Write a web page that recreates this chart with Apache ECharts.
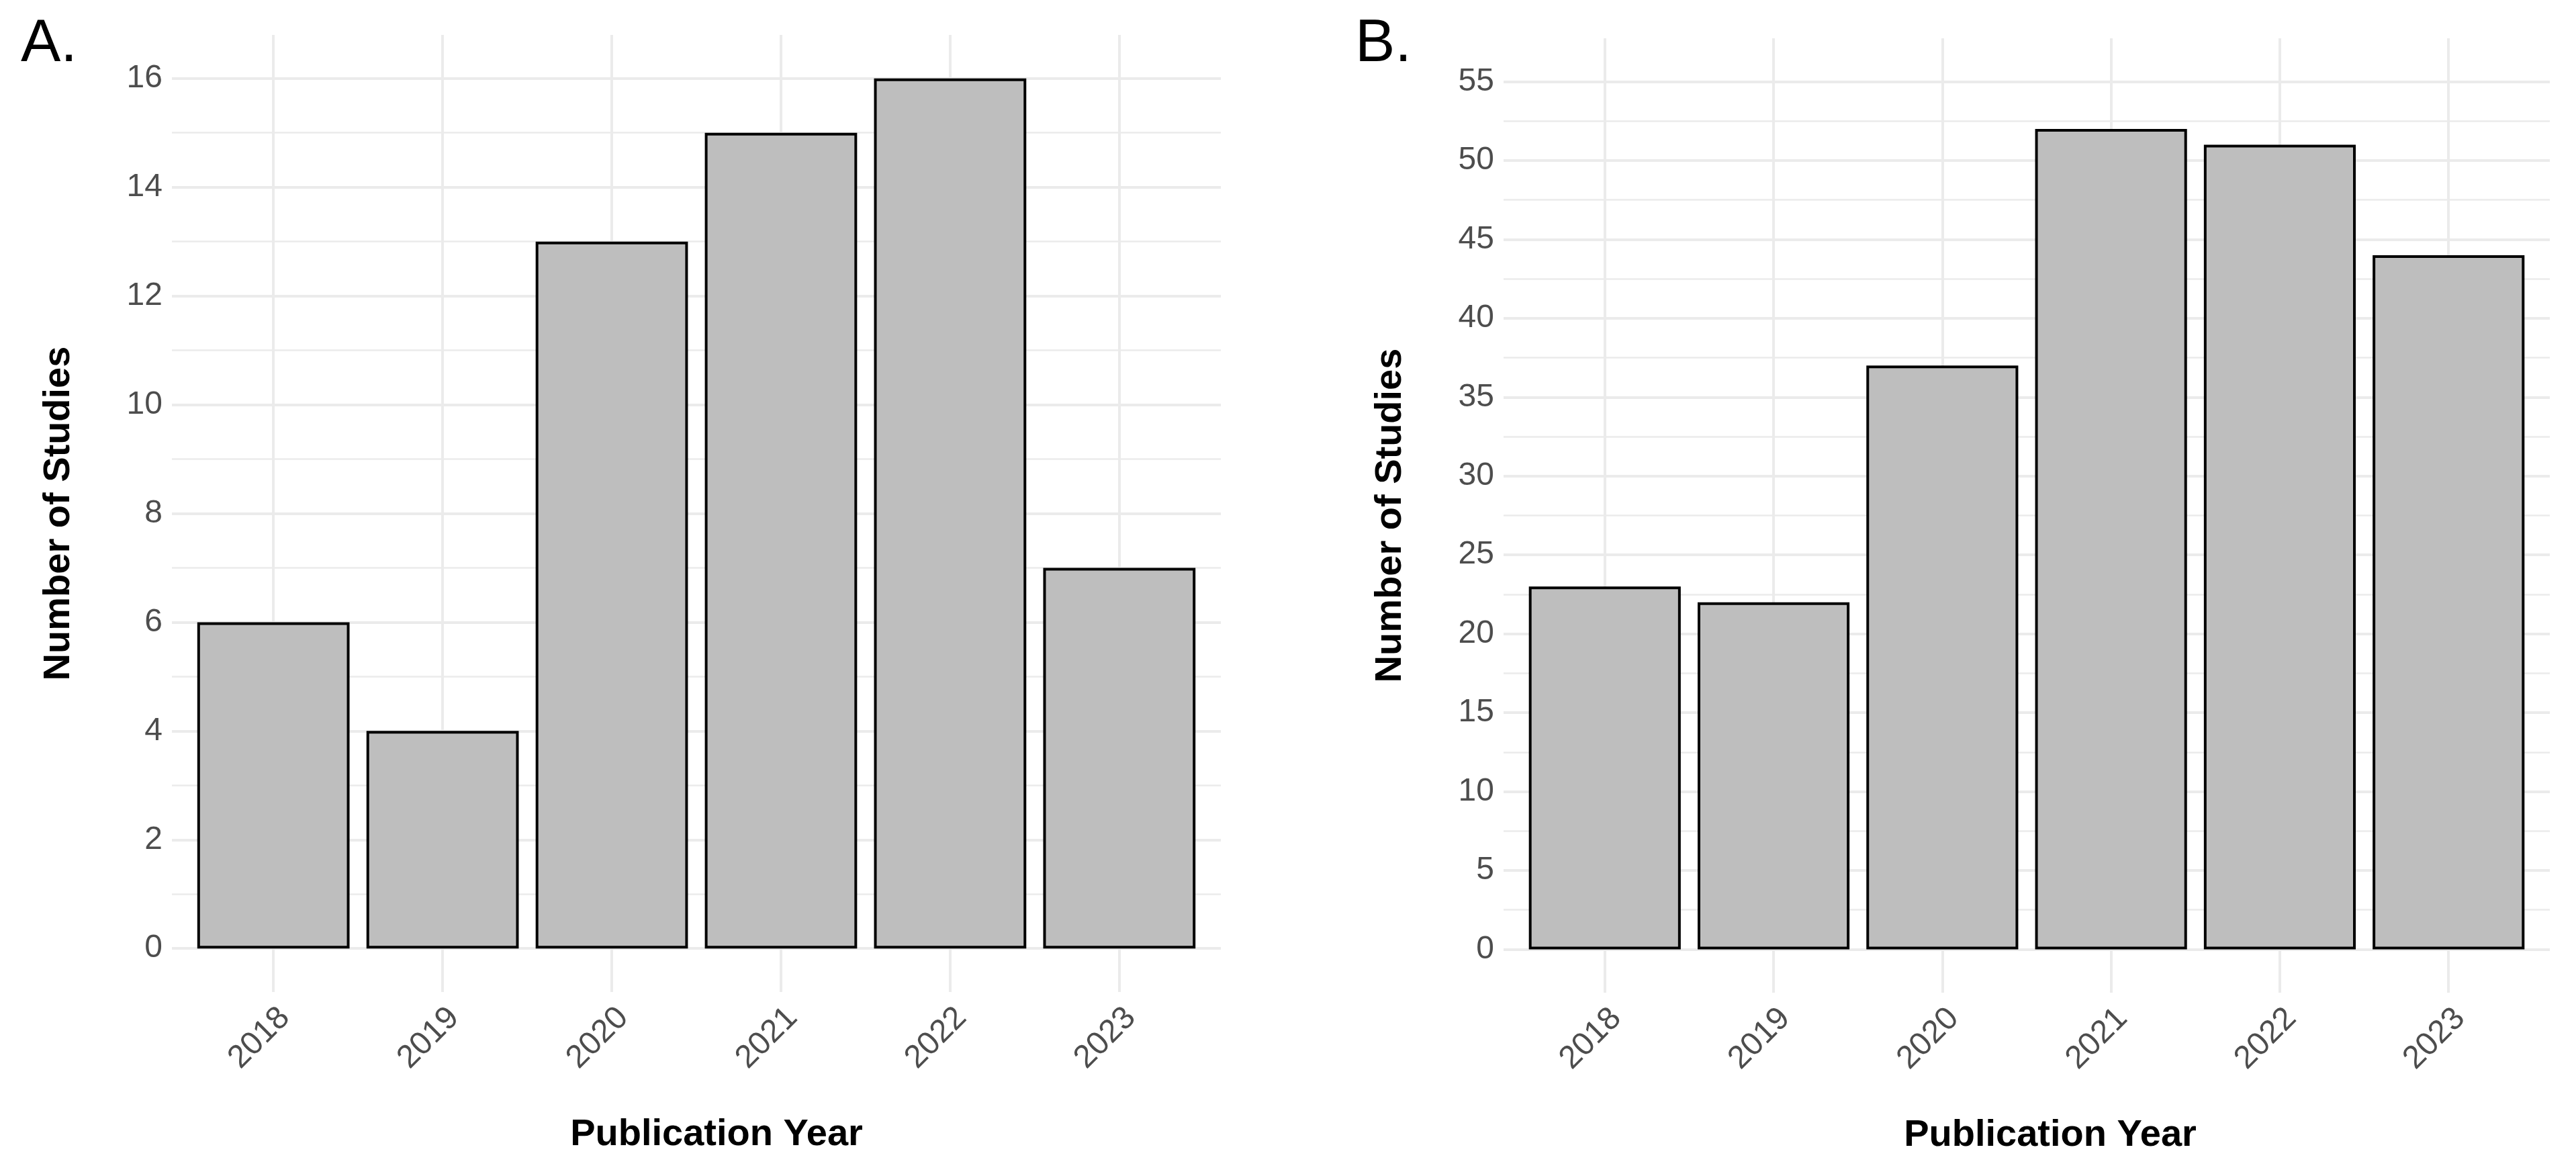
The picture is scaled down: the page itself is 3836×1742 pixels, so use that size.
<!DOCTYPE html>
<html><head><meta charset="utf-8">
<script src="https://cdn.jsdelivr.net/npm/echarts@6/dist/echarts.min.js"></script>
<style>html,body{margin:0;padding:0;background:#fff}#c{width:3836px;height:1742px}</style>
</head><body><div id="c"></div>
<script>
// ---- data ----
const years = ['2018', '2019', '2020', '2021', '2022', '2023'];
const studiesA = [6, 4, 13, 15, 16, 7];
const studiesB = [23, 22, 37, 52, 51, 44];
const yTicksA = [0, 2, 4, 6, 8, 10, 12, 14, 16];
const yTicksB = [0, 5, 10, 15, 20, 25, 30, 35, 40, 45, 50, 55];
const panelTags = ['A.', 'B.'];
const xTitle = 'Publication Year';
const yTitle = 'Number of Studies';

// ---- layout / style ----
const FONT = '"Liberation Sans", Arial, Helvetica, sans-serif';
const panels = [
  { left: 256, right: 1818, top: 52, bottom: 1477, tagX: 31, xTitleShift: 60 },
  { left: 2239, right: 3797, top: 57, bottom: 1478, tagX: 2018, xTitleShift: 70 }
];
const GRID = '#ebebeb';
const grids = [], xAxes = [], yAxes = [], series = [], titles = [];

function addPanel(p, values, ticks, tag) {
  const ymax = ticks[ticks.length - 1];
  const step = ticks[1] - ticks[0];
  const ex = 0.05 * ymax;
  const unit = (p.bottom - p.top) / (ymax + 2 * ex);
  const gi = grids.length;
  const w = p.right - p.left;
  grids.push({ left: p.left, width: w, top: p.top, height: p.bottom - p.top });
  grids.push({ left: p.left, width: w, top: p.top + ex * unit, height: ymax * unit });
  const xmin = 0.4, xmax = years.length + 0.6;
  xAxes.push({
    gridIndex: gi, type: 'value', min: xmin, max: xmax, minInterval: 1, maxInterval: 1,
    axisLine: { show: false, onZero: false }, axisTick: { show: false },
    splitLine: { show: true, showMinLine: false, showMaxLine: false, lineStyle: { color: GRID, width: 4 } },
    axisLabel: {
      show: true, rotate: 45, margin: 14, verticalAlign: 'top',
      fontSize: 48, color: '#4d4d4d', fontFamily: FONT,
      showMinLabel: false, showMaxLabel: false,
      formatter: v => (Math.abs(v - Math.round(v)) < 1e-6 && years[Math.round(v) - 1]) ? years[Math.round(v) - 1] : ''
    },
    name: xTitle, nameLocation: 'middle', nameGap: 185,
    nameTextStyle: { fontSize: 56, fontWeight: 'bold', color: '#000', fontFamily: FONT,
      padding: [0, 0, 0, p.xTitleShift] }
  });
  yAxes.push({ gridIndex: gi, type: 'value', min: -ex, max: ymax + ex, show: false, splitLine: { show: false },
    axisLine: { onZero: false } });
  xAxes.push({ gridIndex: gi + 1, type: 'value', min: xmin, max: xmax, show: false,
    axisLine: { onZero: false }, splitLine: { show: false } });
  yAxes.push({
    gridIndex: gi + 1, type: 'value', min: ticks[0], max: ymax, interval: step,
    axisLine: { show: false, onZero: false }, axisTick: { show: false },
    axisLabel: { fontSize: 48, color: '#4d4d4d', margin: 14, fontFamily: FONT },
    splitLine: { show: true, lineStyle: { color: GRID, width: 4 } },
    minorTick: { show: false, splitNumber: 2 },
    minorSplitLine: { show: true, lineStyle: { color: GRID, width: 2.5 } },
    name: yTitle, nameLocation: 'middle', nameGap: 140, nameRotate: 90,
    nameTextStyle: { fontSize: 56, fontWeight: 'bold', color: '#000', fontFamily: FONT }
  });
  series.push({
    type: 'bar', xAxisIndex: gi, yAxisIndex: gi, barWidth: '90%',
    data: values.map((v, i) => [i + 1, v]),
    itemStyle: { color: '#bebebe', borderColor: '#000', borderWidth: 4 },
    silent: true
  });
  titles.push({ text: tag, left: p.tagX, top: 22, padding: 0,
    textStyle: { fontSize: 89, fontWeight: 'normal', color: '#000', fontFamily: FONT } });
}
addPanel(panels[0], studiesA, yTicksA, panelTags[0]);
addPanel(panels[1], studiesB, yTicksB, panelTags[1]);

const chart = echarts.init(document.getElementById('c'), null, { renderer: 'canvas' });
chart.setOption({
  backgroundColor: '#ffffff', animation: false,
  title: titles, grid: grids, xAxis: xAxes, yAxis: yAxes, series: series
});
</script></body></html>
